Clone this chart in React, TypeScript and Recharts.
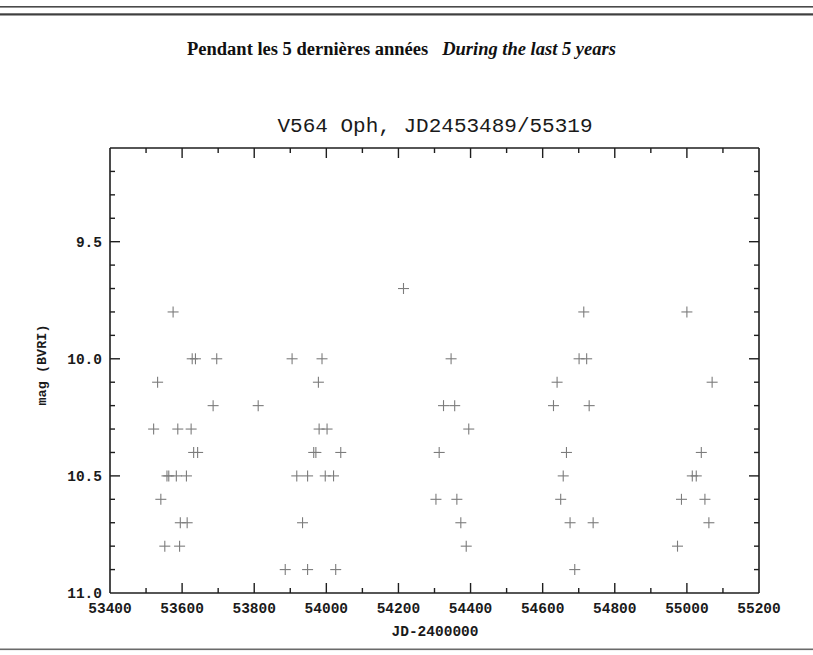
import React from 'react';
import { ScatterChart, Scatter, XAxis, YAxis } from 'recharts';

// Julian dates (JD - 2400000) of the observations
const jdValues = [
  53521, 53532, 53541, 53552, 53558, 53563, 53575, 53584, 53588, 53593, 53595,
  53612, 53614, 53625, 53628, 53632, 53637, 53643, 53686, 53696, 53811,
  53886, 53905, 53918, 53934, 53948, 53948, 53965, 53971, 53978, 53980, 53988,
  53997, 54002, 54020, 54026, 54040,
  54214, 54304, 54313, 54325, 54346, 54356, 54362, 54373, 54388, 54395,
  54630, 54640, 54650, 54657, 54666, 54676, 54689, 54701, 54714, 54722, 54729, 54740,
  54974, 54985, 55000, 55015, 55026, 55040, 55050, 55061, 55070,
];

// Magnitudes (BVRI)
const magValues = [
  10.3, 10.1, 10.6, 10.8, 10.5, 10.5, 9.8, 10.5, 10.3, 10.8, 10.7,
  10.5, 10.7, 10.3, 10.0, 10.4, 10.0, 10.4, 10.2, 10.0, 10.2,
  10.9, 10.0, 10.5, 10.7, 10.5, 10.9, 10.4, 10.4, 10.1, 10.3, 10.0,
  10.5, 10.3, 10.5, 10.9, 10.4,
  9.7, 10.6, 10.4, 10.2, 10.0, 10.2, 10.6, 10.7, 10.8, 10.3,
  10.2, 10.1, 10.6, 10.5, 10.4, 10.7, 10.9, 10.0, 9.8, 10.0, 10.2, 10.7,
  10.8, 10.6, 9.8, 10.5, 10.5, 10.4, 10.6, 10.7, 10.1,
];

const xTicks = [
  53400, 53500, 53600, 53700, 53800, 53900, 54000, 54100, 54200, 54300,
  54400, 54500, 54600, 54700, 54800, 54900, 55000, 55100, 55200,
];
const xLabelTicks = [53400, 53600, 53800, 54000, 54200, 54400, 54600, 54800, 55000, 55200];
const xDomain = [53400, 55200];

const yTicks = [
  9.2, 9.3, 9.4, 9.5, 9.6, 9.7, 9.8, 9.9, 10.0, 10.1, 10.2, 10.3, 10.4,
  10.5, 10.6, 10.7, 10.8, 10.9, 11.0,
];
const yLabelTicks = [9.5, 10.0, 10.5, 11.0];
const yDomain = [9.1, 11.0];

const data = jdValues.map((jd, i) => ({ jd, mag: magValues[i] }));

const AXIS_COLOR = '#1e1e1e';
const TEXT_COLOR = '#1a1a1a';
const MARK_COLOR = '#7c7c7c';
const MAJOR = 10;
const MINOR = 5;
const TICK_FONT = '"Liberation Mono", "DejaVu Sans Mono", monospace';

const isIn = (arr: number[], v: number) => arr.some((a) => Math.abs(a - v) < 1e-6);

const BottomTick = (p: any) => {
  const { x, y, payload } = p;
  const v = payload.value;
  const major = isIn(xLabelTicks, v);
  const edge = v === xDomain[0] || v === xDomain[1];
  return (
    <g>
      {!edge && (
        <line x1={x} x2={x} y1={y} y2={y - (major ? MAJOR : MINOR)} stroke={AXIS_COLOR} strokeWidth={1.4} />
      )}
      {major && (
        <text x={x} y={y + 20} textAnchor="middle" fontFamily={TICK_FONT} fontWeight="bold" fontSize={14.5} fill={TEXT_COLOR}>
          {v}
        </text>
      )}
    </g>
  );
};

const TopTick = (p: any) => {
  const { x, y, payload } = p;
  const v = payload.value;
  const major = isIn(xLabelTicks, v);
  const edge = v === xDomain[0] || v === xDomain[1];
  if (edge) return <g />;
  return <line x1={x} x2={x} y1={y} y2={y + (major ? MAJOR : MINOR)} stroke={AXIS_COLOR} strokeWidth={1.4} />;
};

const LeftTick = (p: any) => {
  const { x, y, payload } = p;
  const v = payload.value;
  const major = isIn(yLabelTicks, v);
  const edge = Math.abs(v - yDomain[1]) < 1e-6;
  return (
    <g>
      {!edge && (
        <line x1={x} x2={x + (major ? MAJOR : MINOR)} y1={y} y2={y} stroke={AXIS_COLOR} strokeWidth={1.4} />
      )}
      {major && (
        <text x={x - 8} y={y} dy="0.36em" textAnchor="end" fontFamily={TICK_FONT} fontWeight="bold" fontSize={14.5} fill={TEXT_COLOR}>
          {v.toFixed(1)}
        </text>
      )}
    </g>
  );
};

const RightTick = (p: any) => {
  const { x, y, payload } = p;
  const v = payload.value;
  const major = isIn(yLabelTicks, v);
  const edge = Math.abs(v - yDomain[1]) < 1e-6;
  if (edge) return <g />;
  return <line x1={x} x2={x - (major ? MAJOR : MINOR)} y1={y} y2={y} stroke={AXIS_COLOR} strokeWidth={1.4} />;
};

const Plus = (p: any) => {
  const { cx, cy } = p;
  if (cx == null || cy == null) return <g />;
  const h = 5.5;
  return (
    <g>
      <line x1={cx - h} x2={cx + h} y1={cy} y2={cy} stroke={MARK_COLOR} strokeWidth={1.1} />
      <line x1={cx} x2={cx} y1={cy - h} y2={cy + h} stroke={MARK_COLOR} strokeWidth={1.1} />
    </g>
  );
};

const axisLine = { stroke: AXIS_COLOR, strokeWidth: 1.6 };

export default function App() {
  return (
    <div style={{ position: 'absolute', left: 0, top: 0, width: 813, height: 655, background: '#ffffff', overflow: 'hidden' }}>
      <div style={{ position: 'absolute', left: 0, top: 0 }}>
        <ScatterChart width={813} height={655} margin={{ top: 0, right: 0, bottom: 0, left: 0 }}>
          <XAxis
            xAxisId="b"
            dataKey="jd"
            type="number"
            orientation="bottom"
            domain={xDomain}
            ticks={xTicks}
            interval={0}
            height={62}
            tickSize={0}
            tickMargin={0}
            tickLine={false}
            axisLine={axisLine}
            tick={BottomTick}
            allowDataOverflow
          />
          <XAxis
            xAxisId="t"
            dataKey="jd"
            type="number"
            orientation="top"
            domain={xDomain}
            ticks={xTicks}
            interval={0}
            height={148}
            tickSize={0}
            tickMargin={0}
            tickLine={false}
            axisLine={axisLine}
            tick={TopTick}
            allowDataOverflow
          />
          <YAxis
            yAxisId="l"
            dataKey="mag"
            type="number"
            orientation="left"
            domain={yDomain}
            reversed
            ticks={yTicks}
            interval={0}
            width={110}
            tickSize={0}
            tickMargin={0}
            tickLine={false}
            axisLine={axisLine}
            tick={LeftTick}
            allowDataOverflow
          />
          <YAxis
            yAxisId="r"
            dataKey="mag"
            type="number"
            orientation="right"
            domain={yDomain}
            reversed
            ticks={yTicks}
            interval={0}
            width={54}
            tickSize={0}
            tickMargin={0}
            tickLine={false}
            axisLine={axisLine}
            tick={RightTick}
            allowDataOverflow
          />
          <Scatter data={data} xAxisId="b" yAxisId="l" shape={Plus} isAnimationActive={false} />
        </ScatterChart>
      </div>
      <svg width={813} height={655} style={{ position: 'absolute', left: 0, top: 0, pointerEvents: 'none' }}>
        <rect x={0} y={6} width={813} height={1.6} fill="#4a4a4a" />
        <rect x={0} y={13.3} width={813} height={2.2} fill="#3f3f3f" />
        <rect x={0} y={648.5} width={813} height={1.6} fill="#6a6a6a" />
        <text x={187} y={55} fontFamily='"Liberation Serif", "Times New Roman", serif' fontSize={18.5} fontWeight="bold" fill="#111">
          Pendant les 5 dernières années
          <tspan dx={14} fontStyle="italic">During the last 5 years</tspan>
        </text>
        <text x={435} y={132} textAnchor="middle" fontFamily={TICK_FONT} fontSize={21} fill="#1a1a1a">
          V564 Oph, JD2453489/55319
        </text>
        <text x={435} y={636} textAnchor="middle" fontFamily={TICK_FONT} fontWeight="bold" fontSize={14.5} fill={TEXT_COLOR}>
          JD-2400000
        </text>
        <text
          x={0}
          y={0}
          transform="translate(46 365) rotate(-90)"
          textAnchor="middle"
          fontFamily={TICK_FONT}
          fontWeight="bold"
          fontSize={13.5}
          fill={TEXT_COLOR}
        >
          mag (BVRI)
        </text>
      </svg>
    </div>
  );
}
